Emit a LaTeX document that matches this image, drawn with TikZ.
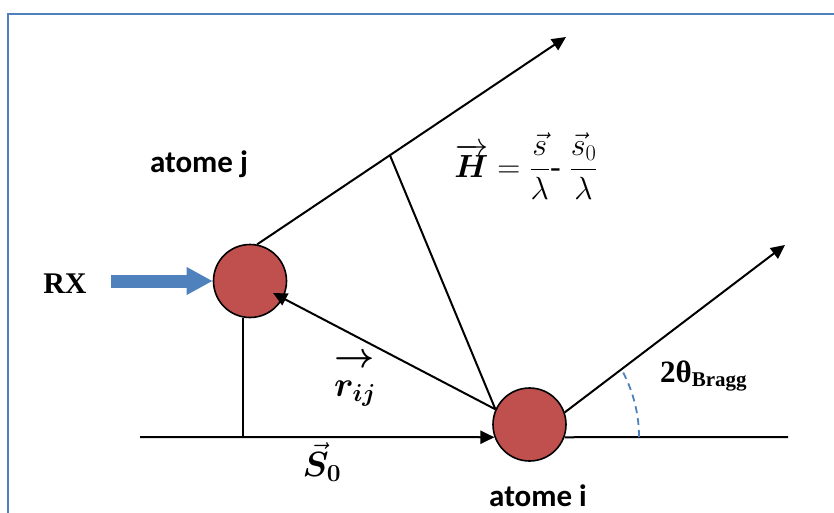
\RequirePackage{fix-cm}
\documentclass[tikz,border=0pt]{standalone}
\usepackage{amsmath,bm}
\usepackage{fontspec}
\setmainfont{Liberation Serif}
\newfontfamily\calib{Carlito}
\usetikzlibrary{arrows.meta,calc}
\definecolor{atomred}{HTML}{C0504D}
\definecolor{rxblue}{HTML}{4F81BD}
\tikzset{
  atom/.style={circle,draw=black,fill=atomred,line width=1.6pt,minimum size=73pt,inner sep=0pt},
  conn/.style={line width=2pt,black},
  tip/.style={-{Triangle[length=14pt,width=13pt]}},
  frameline/.style={rxblue,line width=2pt},
  atomlabel/.style={font=\calib\bfseries\fontsize{31}{36}\selectfont,anchor=base,inner sep=0pt},
  mathlabel/.style={font=\fontsize{35}{40}\selectfont,inner sep=0pt},
  rxarrow/.style={rxblue,line width=13pt,-{Triangle[length=26pt,width=26pt]}},
  anglearc/.style={rxblue,line width=1.8pt,dash pattern=on 7pt off 5pt}
}
\begin{document}
\begin{tikzpicture}[x=1pt,y=-1pt]
\useasboundingbox (0,0) rectangle (834,513);
\draw[frameline] (8,513) -- (8,13.7) -- (834,13.7);
% atoms
\node[atom] (aj) at (250,281) {};
\node[atom] (ai) at (529.5,424.5) {};
% free ends
\coordinate (s0start) at (140,437);
\coordinate (lineend) at (788,437);
\coordinate (topend) at (566,37);
\coordinate (rightend) at (785,245);
\coordinate (rtip) at (273,293);
\coordinate (rxstart) at (111,281);
\coordinate (arcc) at (500,437);
\coordinate (pf) at ($(aj.79)!0.43!(topend)$);
% connectors
\draw[conn,tip] (s0start) -- (ai.200);
\draw[conn] (ai.-20) -- (lineend);
\draw[conn] (aj.259) -- (aj.259 |- s0start);
\draw[conn,tip] (aj.79) -- (topend);
\draw[conn] (pf) -- (ai.156);
\draw[conn,tip] (ai.156) -- (rtip);
\draw[conn,tip] (ai.19) -- (rightend);
\draw[rxarrow] (rxstart) -- (aj.west);
\draw[anglearc] ($(arcc)+(139,0)$) arc[start angle=0,end angle=-28,radius=139];
% labels
\node[atomlabel] (lj) at (199,172) {atome j};
\node[atomlabel] (li) at (538,506) {atome i};
\node[anchor=base,inner sep=0pt,font=\bfseries\fontsize{30}{36}\selectfont] (rx) at (65,293) {RX};
\node[anchor=base west,inner sep=0pt,font=\bfseries\fontsize{31}{36}\selectfont] (tb) at (660,382) {2θ\textsubscript{\fontsize{21}{24}\selectfont Bragg}};
\node[mathlabel,font=\fontsize{32}{38}\selectfont] (hf) at (526,166) {$\overrightarrow{\bm{H}} = \dfrac{\vec{s}}{\lambda}\text{-}\;\dfrac{\vec{s}_0}{\lambda}$};
\node[mathlabel] (rij) at (355,380) {\shortstack{$\bm{\rightarrow}$\\[10pt]$\bm{r}_{\bm{ij}}$}};
\node[mathlabel] (s0) at (322,462) {$\vec{\bm{S}}_{\bm{0}}$};
\end{tikzpicture}
\end{document}
